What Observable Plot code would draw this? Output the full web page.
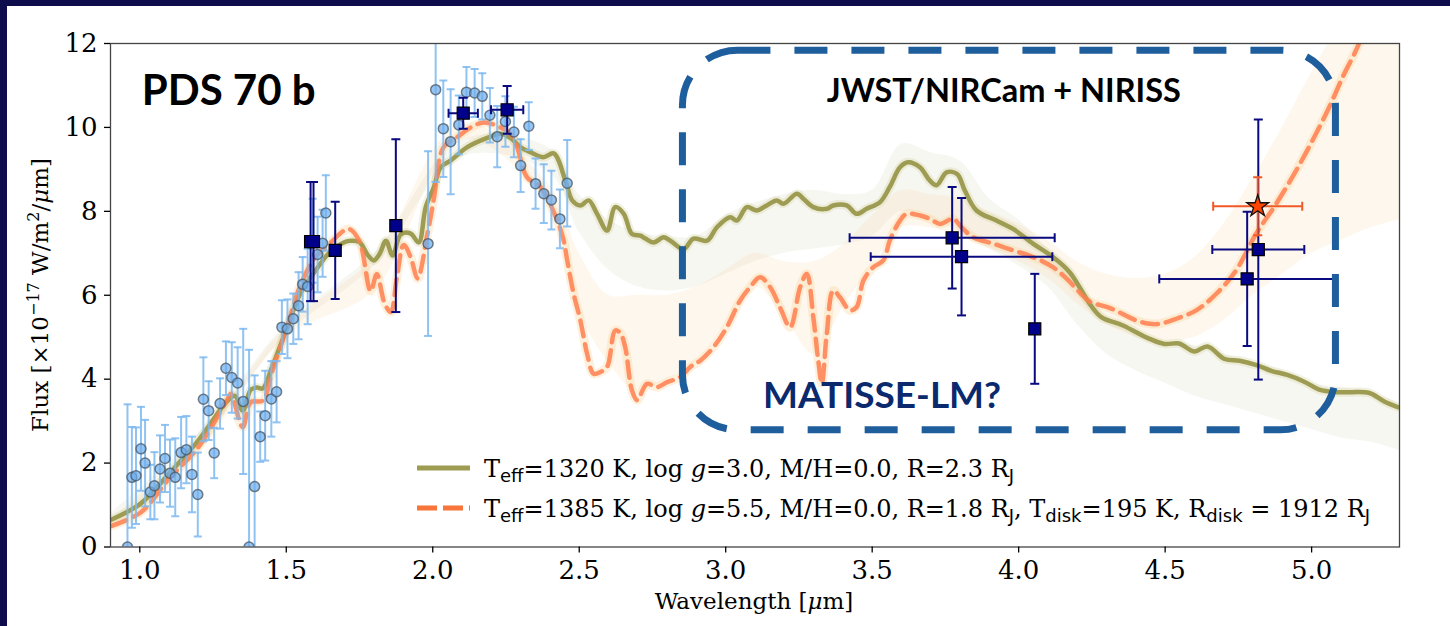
<!DOCTYPE html>
<html><head><meta charset="utf-8">
<script src="https://cdn.jsdelivr.net/npm/d3@7"></script>
<script src="https://cdn.jsdelivr.net/npm/@observablehq/plot@0.6"></script>
<style>
html,body{margin:0;padding:0;background:#0e0c4c;width:1450px;height:626px;overflow:hidden}
#wrap{position:absolute;left:7px;top:6px;width:1443px;height:620px;background:#fff}
</style></head><body><div id="wrap"></div>
<script>
// ---- tick labels ----
const xTicks = [1.0, 1.5, 2.0, 2.5, 3.0, 3.5, 4.0, 4.5, 5.0];
const yTicks = [0, 2, 4, 6, 8, 10, 12];

// ---- model 1 (olive, solid) ----
const oliveX = [0.902,1.004,1.10,1.20,1.30,1.325,1.351,1.379,1.40,1.42,1.451,1.499,1.55,1.60,1.649,1.70,1.72,1.749,1.779,1.799,1.819,1.84,1.863,1.891,1.925,1.952,1.976,2.004,2.027,2.061,2.118,2.186,2.231,2.265,2.299,2.333,2.378,2.413,2.453,2.476,2.504,2.532,2.561,2.595,2.623,2.652,2.68,2.709,2.726,2.754,2.788,2.811,2.856,2.89,2.936,2.97,3.015,3.038,3.072,3.106,3.14,3.174,3.197,3.243,3.265,3.299,3.345,3.367,3.413,3.447,3.481,3.527,3.56,3.595,3.623,3.663,3.697,3.72,3.754,3.79,3.816,3.856,3.924,3.981,4.049,4.117,4.174,4.208,4.242,4.282,4.356,4.447,4.497,4.548,4.599,4.645,4.703,4.754,4.815,4.862,4.917,4.975,5.026,5.084,5.135,5.197,5.248,5.296];
const oliveY = [0.65,1.04,1.75,2.54,3.49,3.6,3.25,3.75,3.8,3.78,4.28,5.16,6.07,6.59,7.03,7.27,7.3,7.27,6.95,6.83,6.99,7.3,6.95,7.45,7.47,7.26,8.1,8.58,9.05,9.21,9.53,9.75,9.85,9.75,9.53,9.41,9.29,9.38,8.73,8.26,8.14,8.26,7.94,7.54,8.1,7.94,7.46,7.42,7.35,7.26,7.38,7.3,7.1,7.35,7.3,7.62,7.86,7.78,8.1,8.02,8.14,8.26,8.18,8.42,8.3,8.1,8.06,8.14,8.14,7.94,8.06,8.22,8.58,9.05,9.17,9.05,8.73,8.62,8.93,8.89,8.5,8.02,7.78,7.58,7.23,6.91,6.55,6.19,5.8,5.48,5.28,4.96,4.84,4.85,4.66,4.78,4.48,4.44,4.33,4.2,4.1,3.94,3.75,3.69,3.69,3.67,3.47,3.33];

// ---- model 2 (orange, dashed) ----
const orangeX = [0.902,1.004,1.10,1.20,1.30,1.311,1.351,1.379,1.42,1.451,1.499,1.55,1.60,1.649,1.713,1.749,1.788,1.809,1.836,1.857,1.877,1.901,1.925,1.948,1.982,2.003,2.037,2.084,2.13,2.175,2.231,2.265,2.288,2.322,2.368,2.425,2.447,2.459,2.481,2.504,2.527,2.549,2.572,2.595,2.623,2.64,2.657,2.68,2.698,2.731,2.765,2.80,2.845,2.879,2.913,2.958,3.004,3.049,3.083,3.117,3.152,3.186,3.22,3.254,3.277,3.299,3.316,3.328,3.345,3.367,3.39,3.424,3.447,3.47,3.504,3.538,3.56,3.595,3.618,3.663,3.697,3.731,3.776,3.805,3.845,3.913,3.981,4.049,4.117,4.163,4.208,4.242,4.31,4.401,4.447,4.481,4.538,4.606,4.674,4.742,4.81,4.879,4.947,5.003,5.06,5.106,5.151,5.197,5.25,5.3];
const orangeY = [0.5,0.83,1.63,2.38,3.53,3.65,2.86,3.45,3.49,4.17,5.16,6.27,6.91,7.24,7.58,7.3,6.1,6.5,5.8,5.6,6.4,7.2,6.9,6.4,7.47,8.26,9.53,9.77,10.0,10.12,10.0,9.85,9.53,8.81,8.58,7.78,7.3,6.83,6.03,5.4,4.6,4.13,4.17,4.29,5.16,5.1,4.76,3.73,3.5,3.89,3.81,3.93,4.05,4.29,4.44,4.76,5.24,5.87,6.19,6.43,6.19,5.7,5.24,6.19,6.51,5.48,4.44,3.9,5.08,6.11,5.95,5.64,5.72,6.35,6.67,6.83,7.3,7.78,7.94,7.9,7.82,7.7,7.82,7.62,7.38,7.23,7.07,6.91,6.67,6.4,6.07,5.85,5.7,5.4,5.32,5.32,5.44,5.64,6.03,6.59,7.46,8.18,8.97,9.69,10.48,11.2,11.83,12.6,13.5,14.3];

// ---- spread of posterior sample spectra (envelopes) ----
const bandX    = [0.9,1.2,1.5,1.8,2.1,2.4,2.5,2.6,2.7,2.8,2.9,3.0,3.1,3.2,3.3,3.4,3.5,3.6,3.7,3.8,3.9,4.0,4.1,4.2,4.3,4.4,4.5,4.6,4.7,4.8,4.9,5.0,5.1,5.2,5.3];
const oliveLo  = [0.55,2.4,5.05,6.7,9.3,8.9,7.5,6.6,6.2,6.1,6.2,6.5,6.8,7.0,7.1,7.2,7.4,8.0,7.8,7.5,7.1,6.7,6.2,5.3,4.6,4.2,3.9,3.6,3.4,3.2,3.0,2.8,2.6,2.5,2.3];
const oliveHi  = [0.8,2.7,5.3,7.0,9.7,9.5,8.4,7.8,7.5,7.4,7.4,7.9,8.2,8.4,8.5,8.4,8.5,9.6,9.4,9.2,8.3,7.8,7.1,6.3,5.5,5.1,4.9,4.8,4.6,4.4,4.2,3.9,3.8,3.7,3.4];
const orangeLo = [0.45,2.25,5.0,6.1,9.7,8.1,5.6,4.4,3.7,4.0,4.4,5.3,6.2,5.5,4.6,5.7,6.7,7.6,7.6,7.4,7.1,6.8,6.4,5.8,5.3,5.0,4.9,5.0,5.4,6.0,6.5,7.0,7.3,7.6,7.8];
const orangeHi = [0.65,2.55,5.25,6.9,10.1,8.6,7.0,6.0,6.0,6.0,6.2,6.6,7.0,6.8,6.8,7.2,7.9,8.5,8.4,8.3,8.0,7.7,7.3,6.8,6.5,6.4,6.5,6.9,7.7,8.8,10.0,11.3,12.5,13.5,14.0];

// ---- spectrophotometry (light blue circles) ----
const bx = [0.958,0.973,0.987,1.004,1.018,1.036,1.05,1.069,1.086,1.103,1.121,1.141,1.159,1.178,1.198,1.217,1.235,1.254,1.274,1.294,1.314,1.334,1.353,1.373,1.392,1.411,1.428,1.449,1.467,1.485,1.504,1.524,1.542,1.556,1.573,1.59,1.607,1.624,1.635,1.984,2.01,2.036,2.061,2.089,2.115,2.143,2.169,2.195,2.22,2.248,2.277,2.30,2.328,2.351,2.379,2.405,2.434,2.459];
const by = [0.0,1.66,1.70,2.34,2.0,1.31,1.46,1.86,2.11,1.76,1.66,2.25,2.32,1.73,1.25,3.52,3.25,2.24,3.42,4.26,4.04,3.91,3.47,0.0,1.44,2.63,3.13,3.53,3.70,5.24,5.2,5.44,5.75,6.26,6.21,7.3,6.97,7.24,7.96,7.23,10.9,9.97,9.66,10.06,10.84,10.82,10.74,10.29,9.78,10.14,9.89,9.09,10.03,8.66,8.42,8.27,7.82,8.67];
const be = [3.4,1.2,1.15,1.0,1.03,0.65,0.8,0.8,0.8,0.8,0.93,0.85,0.8,0.9,1.0,1.0,0.7,0.6,0.6,0.64,0.84,0.85,1.73,4.7,2.65,0.6,1.07,0.9,0.73,0.64,0.7,0.6,0.8,0.65,0.9,1.0,0.9,0.8,0.9,2.2,2.2,1.15,1.25,0.7,0.6,0.57,0.55,0.65,0.73,0.6,0.6,0.63,0.57,0.6,0.7,0.7,0.7,1.03];

// ---- photometry (navy squares) ----
const nx  = [1.583,1.593,1.667,1.874,2.104,2.254,3.773,3.805,4.055,4.818,4.78];
const ny  = [7.28,7.28,7.07,7.66,10.34,10.42,7.37,6.92,5.2,7.09,6.39];
const nye = [1.42,1.42,1.16,2.06,0.37,0.57,1.21,1.4,1.31,3.1,1.6];
const nxe = [0,0,0,0,0.05,0.055,0.35,0.31,0.015,0.157,0.3];

// ---- photometry (orange star) ----
const sx = [4.816], sy = [8.12], sye = [0.69], sxe = [0.152];

// ---- tables ----
const olive = oliveX.map((x,i)=>({x, y: oliveY[i]}));
const orange = orangeX.map((x,i)=>({x, y: orangeY[i]}));
const bands = bandX.map((x,i)=>({x, oLo: oliveLo[i], oHi: oliveHi[i], rLo: orangeLo[i], rHi: orangeHi[i]}));
const blue = bx.map((x,i)=>({x, y: by[i], e: be[i]}));
const navy = nx.map((x,i)=>({x, y: ny[i], ye: nye[i], xe: nxe[i]}));
const star = sx.map((x,i)=>({x, y: sy[i], ye: sye[i], xe: sxe[i]}));

const hcap = {draw(ctx, size){const r=Math.sqrt(size/Math.PI); ctx.moveTo(-r,0); ctx.lineTo(r,0);}};
const vcap = {draw(ctx, size){const r=Math.sqrt(size/Math.PI); ctx.moveTo(0,-r); ctx.lineTo(0,r);}};

function errMarks(data, color, sw, capR){
  const withX = data.filter(d=>d.xe>0);
  return [
    Plot.ruleX(data, {x:"x", y1:d=>d.y-d.ye, y2:d=>d.y+d.ye, stroke:color, strokeWidth:sw, clip:true}),
    Plot.ruleY(withX, {y:"y", x1:d=>d.x-d.xe, x2:d=>d.x+d.xe, stroke:color, strokeWidth:sw, clip:true}),
    Plot.dot(data, {x:"x", y:d=>d.y+d.ye, symbol:hcap, r:capR, stroke:color, strokeWidth:sw, fill:"none", clip:true}),
    Plot.dot(data, {x:"x", y:d=>d.y-d.ye, symbol:hcap, r:capR, stroke:color, strokeWidth:sw, fill:"none", clip:true}),
    Plot.dot(withX, {x:d=>d.x-d.xe, y:"y", symbol:vcap, r:capR, stroke:color, strokeWidth:sw, fill:"none", clip:true}),
    Plot.dot(withX, {x:d=>d.x+d.xe, y:"y", symbol:vcap, r:capR, stroke:color, strokeWidth:sw, fill:"none", clip:true})
  ];
}

const OLIVE = "#9d9c52", ORANGE = "#ff7f50", BOX = "#1f5e9c";

const plot = Plot.plot({
  width: 1443, height: 620,
  marginLeft: 103, marginRight: 51, marginTop: 37, marginBottom: 79.5,
  x: {domain: [0.9, 5.3]},
  y: {domain: [0, 12]},
  style: {fontFamily: "'DejaVu Serif', serif", fontSize: "26px", background: "white", color: "black", overflow: "visible"},
  marks: [
    Plot.areaY(bands, {x:"x", y1:"oLo", y2:"oHi", fill:"#c4c49a", fillOpacity:0.13, curve:"catmull-rom", clip:true}),
    Plot.areaY(bands, {x:"x", y1:"rLo", y2:"rHi", fill:"#fbd8a6", fillOpacity:0.2, curve:"catmull-rom", clip:true}),
    Plot.line(orange, {x:"x", y:"y", stroke:"#f8cf90", strokeWidth:9, strokeOpacity:0.3, curve:"catmull-rom", clip:true}),
    Plot.line(olive, {x:"x", y:"y", stroke:"#c9c98a", strokeWidth:9, strokeOpacity:0.25, curve:"catmull-rom", clip:true}),
    Plot.line(olive, {x:"x", y:"y", stroke:OLIVE, strokeWidth:4.5, curve:"catmull-rom", clip:true}),
    Plot.line(orange, {x:"x", y:"y", stroke:ORANGE, strokeWidth:4.5, strokeOpacity:0.85, strokeDasharray:"16,8", curve:"catmull-rom", clip:true}),
    // spectrophotometry
    Plot.ruleX(blue, {x:"x", y1:d=>d.y-d.e, y2:d=>d.y+d.e, stroke:"#7db9f0", strokeWidth:2, strokeOpacity:0.85, clip:true}),
    Plot.dot(blue, {x:"x", y:d=>d.y+d.e, symbol:hcap, r:4, stroke:"#7db9f0", strokeWidth:2, strokeOpacity:0.85, clip:true}),
    Plot.dot(blue, {x:"x", y:d=>d.y-d.e, symbol:hcap, r:4, stroke:"#7db9f0", strokeWidth:2, strokeOpacity:0.85, clip:true}),
    Plot.dot(blue, {x:"x", y:"y", r:5, fill:"#6badee", fillOpacity:0.7, stroke:"#4a5560", strokeOpacity:0.75, strokeWidth:1.5, clip:true}),
    // photometry
    ...errMarks(navy, "#0a0a80", 2, 4.5),
    Plot.dot(navy, {x:"x", y:"y", symbol:"square", r:6.8, fill:"#00008b", stroke:"#000", strokeWidth:1.2}),
    ...errMarks(star, "#f05a28", 2, 4.5),
    Plot.dot(star, {x:"x", y:"y", symbol:"star", r:6.9, fill:"#ff4500", stroke:"#111", strokeWidth:1.3}),
    // highlighted region
    Plot.rect([0], {x1:2.854, x2:5.083, y1:2.78, y2:11.83, fill:"none", stroke:BOX, strokeWidth:7, strokeDasharray:"33,24", rx:55}),
    Plot.frame({stroke:"#444", strokeWidth:1.3}),
    Plot.axisX({ticks:xTicks, tickFormat:d=>d.toFixed(1), tickSize:6, tickPadding:8, label:null, stroke:"#000", strokeWidth:1.3, fontSize:26}),
    Plot.axisY({ticks:yTicks, tickFormat:d=>String(d), tickSize:6, tickPadding:7, label:null, stroke:"#000", strokeWidth:1.3, fontSize:26})
  ]
});
document.getElementById("wrap").appendChild(plot);

const svg = d3.select(plot);
svg.selectAll('g[aria-label="rect"] rect').attr("rx", 55).attr("ry", 55);

// axis labels
const xl = svg.append("text").attr("x", 747).attr("y", 603).attr("text-anchor","middle")
  .style("font-family","'DejaVu Serif', serif").style("font-size","23px");
xl.append("tspan").text("Wavelength [");
xl.append("tspan").style("font-style","italic").text("μ");
xl.append("tspan").text("m]");

const yl = svg.append("text").attr("transform","translate(41,289) rotate(-90)").attr("text-anchor","middle")
  .style("font-family","'DejaVu Serif', serif").style("font-size","23px");
yl.append("tspan").text("Flux [×10");
yl.append("tspan").attr("dy",-9).style("font-size","16px").text("−17");
yl.append("tspan").attr("dy",9).text(" W/m");
yl.append("tspan").attr("dy",-9).style("font-size","16px").text("2");
yl.append("tspan").attr("dy",9).text("/");
yl.append("tspan").style("font-style","italic").text("μ");
yl.append("tspan").text("m]");

// legend
const lg = svg.append("g").attr("text-anchor","start");
lg.append("line").attr("x1",410).attr("x2",463).attr("y1",462).attr("y2",462).attr("stroke",OLIVE).attr("stroke-width",5);
lg.append("line").attr("x1",410).attr("x2",463).attr("y1",502).attr("y2",502).attr("stroke","#f7743a").attr("stroke-width",5).attr("stroke-dasharray","20,6");
function legendText(y, parts){
  const t = lg.append("text").attr("x",477).attr("y",y).attr("text-anchor","start").style("font-family","'DejaVu Serif', serif").style("font-size","24px");
  let shift = 0;
  for (const p of parts){
    const s = t.append("tspan");
    if (p.sub){ s.attr("dy", 5 - shift).style("font-family","'DejaVu Sans', sans-serif").style("font-size","18px"); shift = 5; }
    else { if (shift){ s.attr("dy", -shift); shift = 0; } if (p.it) s.style("font-style","italic"); }
    s.text(p.t);
  }
}
legendText(470.7, [{t:"T"},{t:"eff",sub:1},{t:"=1320 K, log "},{t:"g",it:1},{t:"=3.0, M/H=0.0, R=2.3 R"},{t:"J",sub:1}]);
legendText(510.7, [{t:"T"},{t:"eff",sub:1},{t:"=1385 K, log "},{t:"g",it:1},{t:"=5.5, M/H=0.0, R=1.8 R"},{t:"J",sub:1},{t:", T"},{t:"disk",sub:1},{t:"=195 K, R"},{t:"disk",sub:1},{t:" = 1912 R"},{t:"J",sub:1}]);

// annotations
const ann = svg.append("g").attr("text-anchor","start").style("font-family","Lato, 'Open Sans', sans-serif").style("font-weight","700");
ann.append("text").attr("x",134.7).attr("y",99).style("font-size","42px").attr("fill","#000").text("PDS 70 b");
ann.append("text").attr("x",819.7).attr("y",95.7).style("font-size","32.5px").attr("fill","#000").text("JWST/NIRCam + NIRISS");
ann.append("text").attr("x",756).attr("y",402).style("font-size","37px").attr("fill","#0b2a6e").text("MATISSE-LM?");
</script></body></html>
